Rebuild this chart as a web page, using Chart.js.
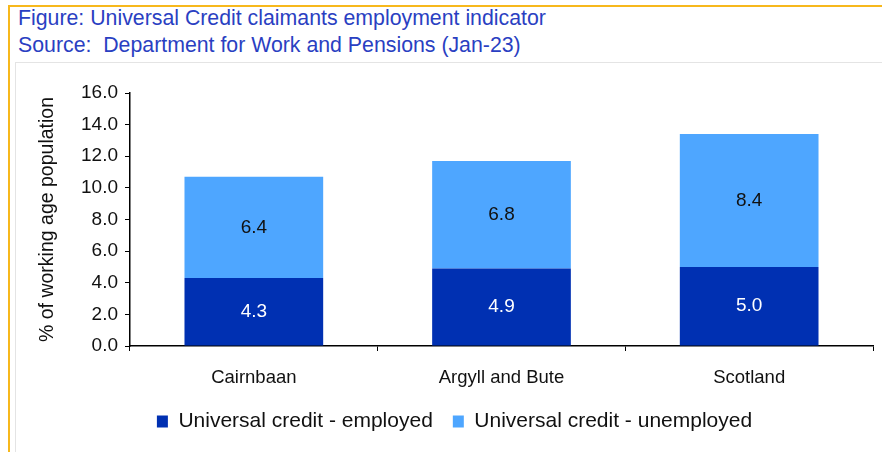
<!DOCTYPE html>
<html>
<head>
<meta charset="utf-8">
<script src="https://cdn.jsdelivr.net/npm/chart.js@4"></script>
<style>
    html, body { margin: 0; padding: 0; background: #fff; }
    body { width: 882px; height: 452px; position: relative; overflow: hidden; font-family: 'Liberation Sans', Arial, sans-serif; }
    #frame { position: absolute; left: 8px; top: 5px; right: -5px; bottom: -5px; border-left: 2px solid #f7b81c; border-top: 2px solid #f7b81c; }
    #inner { position: absolute; left: 15px; top: 62px; right: -5px; bottom: -5px; border-left: 1px solid #e4e4e4; border-top: 1px solid #e4e4e4; }
    .title { position: absolute; left: 18px; font-size: 21.3px; line-height: 24px; color: #2a3fc2; white-space: pre; }
    #chart-wrap { position: absolute; left: 0; top: 0; width: 882px; height: 452px; }
</style>
</head>
<body>
<div id="frame"></div>
<div id="inner"></div>
<div class="title" style="top:6px">Figure: Universal Credit claimants employment indicator</div>
<div class="title" style="top:33px">Source:  Department for Work and Pensions (Jan-23)</div>
<div id="chart-wrap"><canvas id="uc-chart" width="882" height="452"></canvas></div>
<script>
const categories = ['Cairnbaan', 'Argyll and Bute', 'Scotland'];
const employed = [4.3, 4.9, 5.0];
const unemployed = [6.4, 6.8, 8.4];
const yTicks = [0, 2, 4, 6, 8, 10, 12, 14, 16];

const darkBlue = '#0030b2';
const lightBlue = '#4ea6ff';
const fontFamily = '"Liberation Sans", Arial, sans-serif';

// draws the value inside each bar segment
const barValues = {
    id: 'barValues',
    afterDatasetsDraw(chart) {
        const ctx = chart.ctx;
        ctx.save();
        ctx.font = '19px ' + fontFamily;
        ctx.textAlign = 'center';
        ctx.textBaseline = 'middle';
        chart.data.datasets.forEach((ds, i) => {
            chart.getDatasetMeta(i).data.forEach((bar, j) => {
                ctx.fillStyle = i === 0 ? '#ffffff' : '#111111';
                const mid = (bar.y + bar.base) / 2;
                ctx.fillText(ds.data[j].toFixed(1), bar.x, mid);
            });
        });
        ctx.restore();
    }
};

const el = document.getElementById('uc-chart');
new Chart(el, {
    type: 'bar',
    data: {
        labels: categories,
        datasets: [{
            label: 'Universal credit - employed',
            data: employed,
            backgroundColor: darkBlue,
            categoryPercentage: 0.56,
            barPercentage: 1,
        }, {
            label: 'Universal credit - unemployed',
            data: unemployed,
            backgroundColor: lightBlue,
            categoryPercentage: 0.56,
            barPercentage: 1,
        }]
    },
    options: {
        responsive: false,
        animation: false,
        layout: { padding: { top: 93, left: 36, right: 9, bottom: 10 } },
        plugins: {
            tooltip: { enabled: false },
            legend: {
                position: 'bottom',
                labels: {
                    boxWidth: 11,
                    boxHeight: 12,
                    padding: 20,
                    color: '#111',
                    font: { family: fontFamily, size: 21 }
                }
            }
        },
        scales: {
            x: {
                stacked: true,
                border: { color: '#000', width: 1.5 },
                grid: { offset: true, drawOnChartArea: false, color: '#000', tickLength: 5 },
                ticks: { color: '#111', padding: 16, font: { family: fontFamily, size: 18.5 } },
                afterFit: s => { s.height = 45; }
            },
            y: {
                stacked: true,
                min: 0,
                max: 16,
                afterBuildTicks: s => { s.ticks = yTicks.map(v => ({ value: v })); },
                border: { color: '#000', width: 1.5 },
                grid: { drawOnChartArea: false, color: '#000', tickLength: 5 },
                ticks: {
                    color: '#111',
                    padding: 7,
                    font: { family: fontFamily, size: 19 },
                    callback: v => v.toFixed(1)
                },
                title: {
                    display: true,
                    text: '% of working age population',
                    color: '#111',
                    padding: { top: 0, bottom: 10 },
                    font: { family: fontFamily, size: 19.5 }
                },
                afterFit: s => { s.width = 94; }
            }
        }
    },
    plugins: [barValues]
});
</script>
</body>
</html>
